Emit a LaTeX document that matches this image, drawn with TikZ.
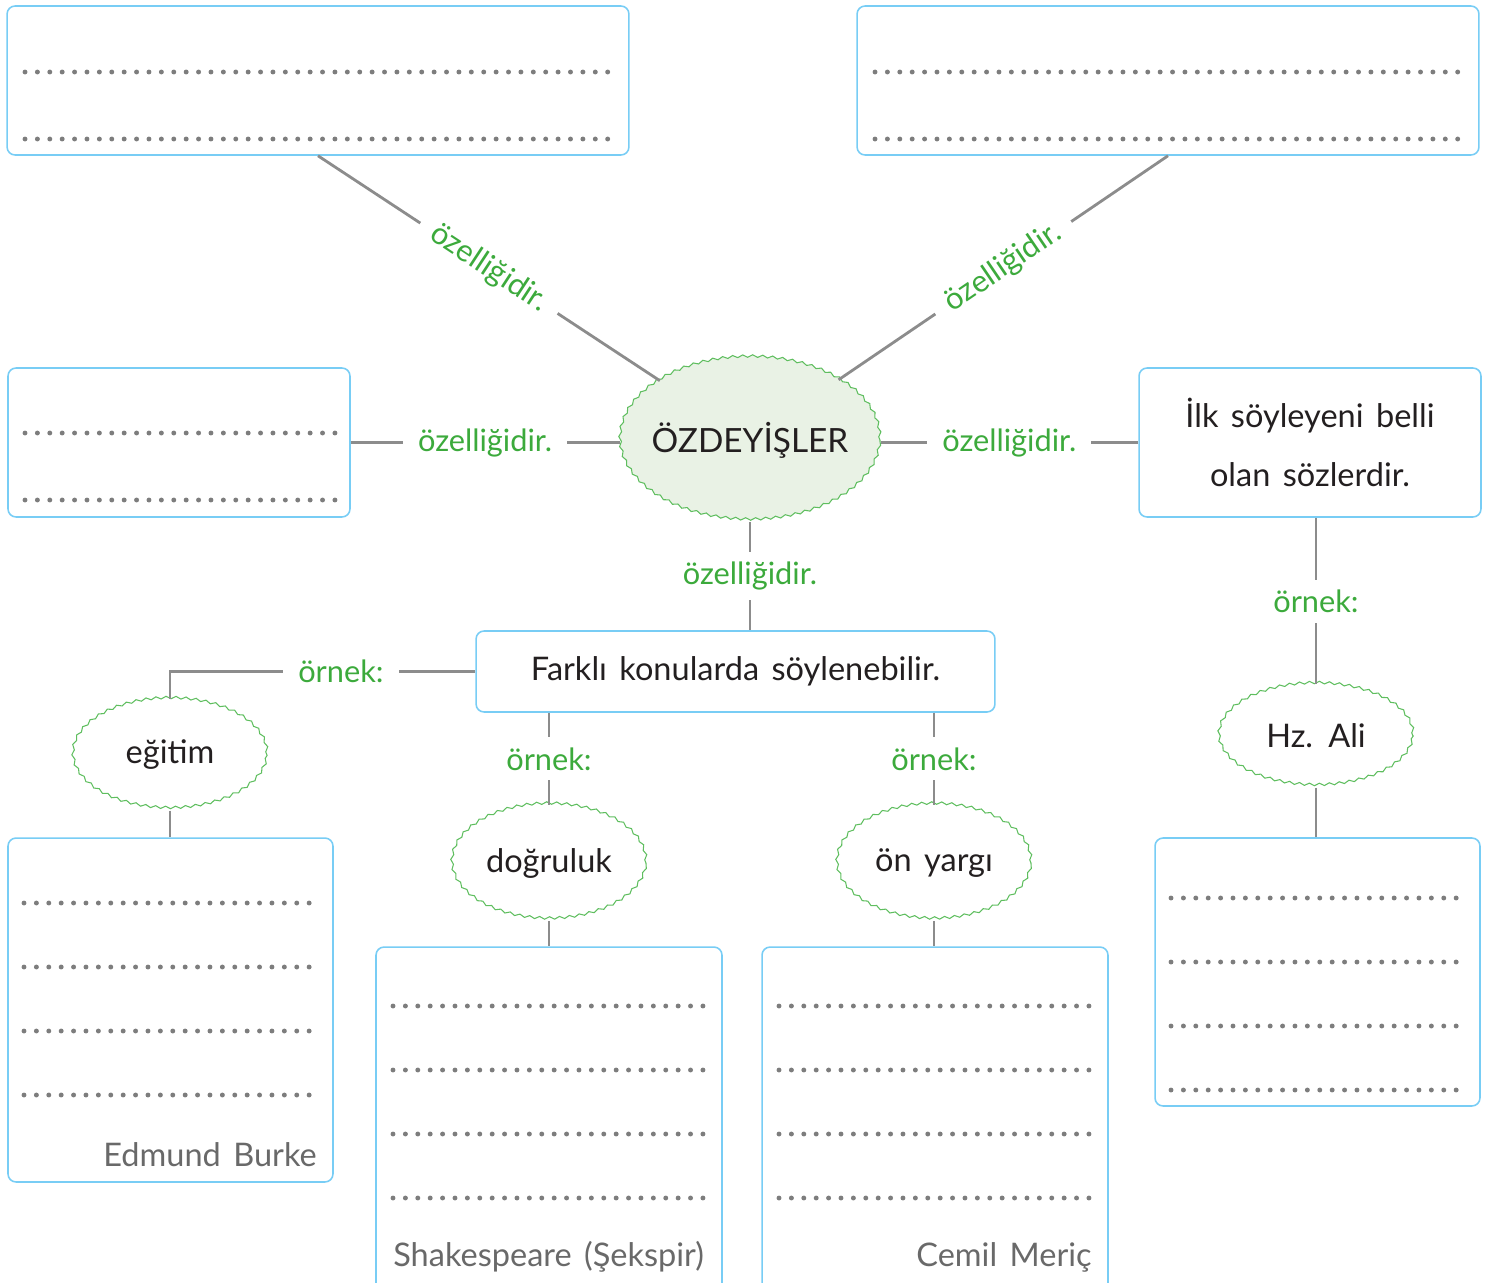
\documentclass[tikz,border=0pt]{standalone}
\usepackage{fontspec}
\setmainfont{Lato}[WordSpace=1.5]
\usepackage{tikz}
\usetikzlibrary{positioning,shapes.geometric,decorations.pathmorphing}

\definecolor{boxblue}{RGB}{120,205,245}
\definecolor{leafgreen}{RGB}{60,170,60}
\definecolor{wavegreen}{RGB}{95,190,95}
\definecolor{palegreen}{RGB}{233,242,229}
\definecolor{linkgray}{RGB}{140,140,140}
\definecolor{dotgray}{RGB}{125,125,125}
\definecolor{inkblack}{RGB}{35,31,32}
\definecolor{namegray}{RGB}{105,105,105}

\begin{document}
\begin{tikzpicture}[x=0.02cm,y=-0.02cm,
box/.style={draw=boxblue,line width=0.9pt,rectangle,rounded corners=0.16cm,inner sep=0pt},
oval/.style={ellipse,draw=wavegreen,line width=0.6pt,decorate,
    decoration={snake,amplitude=0.025cm,segment length=0.2cm},
    minimum width=3.88cm,inner sep=0pt,text=inkblack,font=\fontsize{18.5}{22}\selectfont},
link/.style={draw=linkgray,line width=1.6pt},
lbl/.style={fill=white,text=leafgreen,inner xsep=0.3cm,inner ysep=0.2cm,
    font=\fontsize{17.5}{20}\selectfont},
dots/.style={dotgray,line width=2.8pt,line cap=round,dash pattern=on 0pt off 0.248cm},
words/.style={text=inkblack,font=\fontsize{18.5}{22}\selectfont},
author/.style={text=namegray,inner sep=0pt,font=\fontsize{18.5}{22}\selectfont}]
\useasboundingbox (0,0) rectangle (1495,1282);

% ana kavram
\node (ozd) [oval,fill=palegreen,minimum width=5.2cm,minimum height=3.26cm,
    inner xsep=-0.35cm,font=\fontsize{19}{22}\selectfont] at (750,440) {ÖZDEYİŞLER};

% ozellik kutulari
\node (tl) [box,minimum width=12.44cm,minimum height=2.98cm] at (318,80.5) {};
\node (tr) [box,minimum width=12.44cm,minimum height=2.98cm] at (1168,80.5) {};
\node (ml) [box,minimum width=6.84cm,minimum height=2.98cm] at (179,442.5) {};
\node (mr) [box,words,minimum width=6.84cm,minimum height=2.98cm,align=center,
    font=\fontsize{18.5}{34}\selectfont] at (1310,442.5)
    {İlk söyleyeni belli\\olan sözlerdir.};
\node (fark) [box,words,minimum width=10.38cm,minimum height=1.62cm] at (735.5,671.5)
    {Farklı konularda söylenebilir.};

% ornekler
\node (egitim) [oval,minimum height=2.2cm] at (170,755) {eğitim};
\node (dogru) [oval,minimum height=2.3cm] at (549,863) {doğruluk};
\node (onyargi) [oval,minimum height=2.3cm] at (934,863) {ön yargı};
\node (ali) [oval,minimum height=2.04cm] at (1316,736) {Hz. Ali};

% yazma kutulari
\node (burke) [box,minimum width=6.5cm,minimum height=6.88cm] at (170.5,1010) {};
\node (sksp) [box,minimum width=6.92cm,minimum height=6.9cm] at (549,1119.5) {};
\node (cemil) [box,minimum width=6.92cm,minimum height=6.9cm] at (935,1119.5) {};
\node (alibox) [box,minimum width=6.5cm,minimum height=5.36cm] at (1317.5,972) {};

\node (burkename) [author,anchor=base east] at (317,1166) {Edmund Burke};
\node (skspname) [author,anchor=base west] at (393,1266) {Shakespeare (Şekspir)};
\node (cemilname) [author,anchor=base east] at (1092,1266) {Cemil Meriç};

% noktali satirlar
\foreach \y in {72,139} {
  \draw[dots] (25,\y) -- (615,\y);
  \draw[dots] (875,\y) -- (1465,\y);
}
\foreach \y in {433,500}
  \draw[dots] (25,\y) -- (335,\y);
\foreach \y in {903,967,1031,1095}
  \draw[dots] (24,\y) -- (317,\y);
\foreach \y in {1006,1070,1134,1198} {
  \draw[dots] (393,\y) -- (706,\y);
  \draw[dots] (779,\y) -- (1092,\y);
}
\foreach \y in {898,962,1026,1090}
  \draw[dots] (1171,\y) -- (1465,\y);

% baglantilar
\draw[link] (tl.south) -- (ozd) node[lbl,midway,sloped] {özelliğidir.};
\draw[link] (tr.south) -- (ozd) node[lbl,midway,sloped] {özelliğidir.};
\draw[link] (ml.east) -- (ml.east -| ozd.west) node[lbl,midway] {özelliğidir.};
\draw[link] (mr.west -| ozd.east) -- (mr.west) node[lbl,midway] {özelliğidir.};
\draw[link] (ozd.south) -- (ozd.south |- fark.north) node[lbl,midway] {özelliğidir.};
\draw[link] (fark.west) -| (egitim.north) node[lbl,pos=0.22] {örnek:};
\draw[link] (dogru.north |- fark.south) -- (dogru.north) node[lbl,midway] {örnek:};
\draw[link] (onyargi.north |- fark.south) -- (onyargi.north) node[lbl,midway] {örnek:};
\draw[link] (ali.north |- mr.south) -- (ali.north) node[lbl,midway] {örnek:};
\draw[link] (egitim.south) -- (egitim.south |- burke.north);
\draw[link] (dogru.south) -- (dogru.south |- sksp.north);
\draw[link] (onyargi.south) -- (onyargi.south |- cemil.north);
\draw[link] (ali.south) -- (ali.south |- alibox.north);
\end{tikzpicture}
\end{document}
